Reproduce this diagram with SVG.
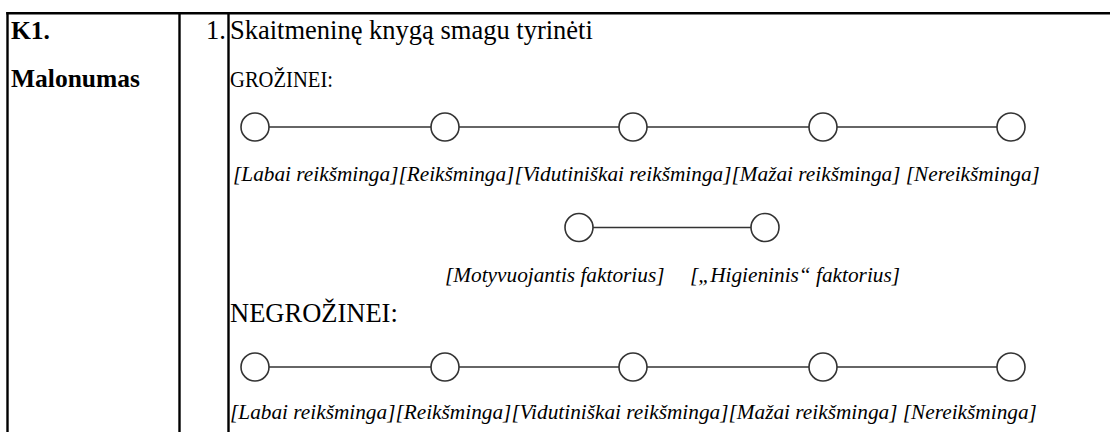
<svg xmlns="http://www.w3.org/2000/svg" width="1110" height="432" viewBox="0 0 1110 432">
<style>
.rule{stroke:#000;stroke-width:2.4;fill:none}
.t{fill:#000}
.main{font-size:26.5px}
.bold{font-size:25.5px;font-weight:bold}
.lab{font-size:21.3px;font-style:italic}
.node circle{fill:#fff;stroke:#333;stroke-width:1.6}
.conn line{stroke:#333;stroke-width:1.6}
</style>
<rect width="1110" height="432" fill="#fff"/>
<g id="table">
<line class="rule" x1="6.3" y1="13.2" x2="1110" y2="13.2"/>
<line class="rule" x1="7.5" y1="12" x2="7.5" y2="432"/>
<line class="rule" x1="179.5" y1="12" x2="179.5" y2="432"/>
<line class="rule" x1="228.5" y1="12" x2="228.5" y2="432"/>
</g>
<g id="texts" font-family="Liberation Serif, Times New Roman, serif" style="font-family:'Liberation Serif','Times New Roman',serif">
<text class="t bold" x="11" y="39">K1.</text>
<text class="t bold" x="11" y="87">Malonumas</text>
<text class="t main" x="206" y="39">1.</text>
<text class="t main" x="230" y="39">Skaitmeninę knygą smagu tyrinėti</text>
<text class="t" x="230" y="87" font-size="24" textLength="103" lengthAdjust="spacingAndGlyphs">GROŽINEI:</text>
<text class="t lab" x="233" y="181">[Labai reikšminga][Reikšminga][Vidutiniškai reikšminga][Mažai reikšminga] [Nereikšminga]</text>
<text class="t lab" x="445" y="282">[Motyvuojantis faktorius]</text>
<text class="t lab" x="690" y="282">[„Higieninis“ faktorius]</text>
<text class="t main" x="230" y="322">NEGROŽINEI:</text>
<text class="t lab" x="230" y="419">[Labai reikšminga][Reikšminga][Vidutiniškai reikšminga][Mažai reikšminga] [Nereikšminga]</text>
</g>
<g id="connectors" class="conn">
<line x1="269" y1="127" x2="431" y2="127"/>
<line x1="459" y1="127" x2="619" y2="127"/>
<line x1="647" y1="127" x2="809" y2="127"/>
<line x1="837" y1="127" x2="997" y2="127"/>
<line x1="593" y1="227.5" x2="751" y2="227.5"/>
<line x1="269" y1="367" x2="431" y2="367"/>
<line x1="459" y1="367" x2="619" y2="367"/>
<line x1="647" y1="367" x2="809" y2="367"/>
<line x1="837" y1="367" x2="997" y2="367"/>
</g>
<g id="n1-1" class="node"><circle cx="255" cy="127" r="14"/></g>
<g id="n1-2" class="node"><circle cx="445" cy="127" r="14"/></g>
<g id="n1-3" class="node"><circle cx="633" cy="127" r="14"/></g>
<g id="n1-4" class="node"><circle cx="823" cy="127" r="14"/></g>
<g id="n1-5" class="node"><circle cx="1011" cy="127" r="14"/></g>
<g id="n2-1" class="node"><circle cx="579" cy="227.5" r="14"/></g>
<g id="n2-2" class="node"><circle cx="765" cy="227.5" r="14"/></g>
<g id="n3-1" class="node"><circle cx="255" cy="367" r="14"/></g>
<g id="n3-2" class="node"><circle cx="445" cy="367" r="14"/></g>
<g id="n3-3" class="node"><circle cx="633" cy="367" r="14"/></g>
<g id="n3-4" class="node"><circle cx="823" cy="367" r="14"/></g>
<g id="n3-5" class="node"><circle cx="1011" cy="367" r="14"/></g>
</svg>
